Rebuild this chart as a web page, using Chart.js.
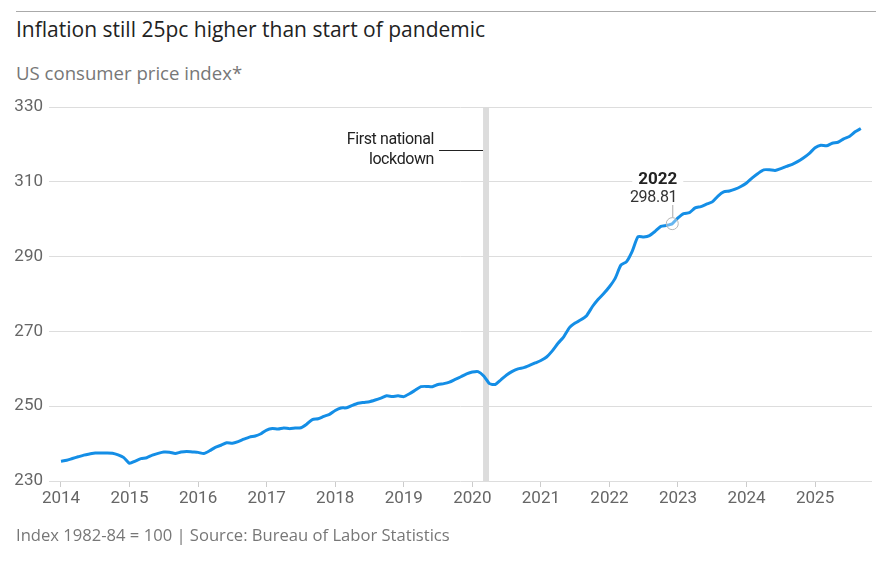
<!DOCTYPE html>
<html><head><meta charset="utf-8">
<script src="https://cdn.jsdelivr.net/npm/chart.js@4"></script>
<style>
body{margin:0;width:876px;height:565px;overflow:hidden;background:#fff;position:relative;font-family:"Open Sans",Roboto,sans-serif}
#topline{position:absolute;left:16px;right:0;top:11px;border-top:1px solid #aaa}
#title{position:absolute;left:16px;top:15px;font-size:21px;color:#222;white-space:nowrap}
#sub{position:absolute;left:16px;top:60px;font-size:18.6px;color:#777;white-space:nowrap}
#foot{position:absolute;left:16px;top:523px;font-size:16.6px;color:#777;white-space:nowrap}
#wrap{position:absolute;left:0;top:0;width:876px;height:565px}
</style></head>
<body>
<div id="topline"></div>
<div id="title">Inflation still 25pc higher than start of pandemic</div>
<div id="sub">US consumer price index*</div>
<div id="wrap"><canvas id="c" width="876" height="565"></canvas></div>
<div id="foot">Index 1982-84 = 100 | Source: Bureau of Labor Statistics</div>
<script>
const years = [2014,2015,2016,2017,2018,2019,2020,2021,2022,2023,2024,2025];
const cpi2014 = [235.288,235.547,236.028,236.468,236.918,237.231,237.498,237.460,237.477,237.430,236.983,236.252];
const cpi2015 = [234.747,235.342,235.976,236.222,236.927,237.400,237.750,237.700,237.363,237.733,237.898,237.761];
const cpi2016 = [237.652,237.336,238.080,238.992,239.557,240.222,240.101,240.545,241.176,241.741,242.026,242.637];
const cpi2017 = [243.618,244.006,243.892,244.193,244.004,244.163,244.243,245.183,246.435,246.626,247.284,247.805];
const cpi2018 = [248.859,249.529,249.577,250.227,250.792,251.018,251.214,251.663,252.182,252.772,252.594,252.767];
const cpi2019 = [252.561,253.319,254.277,255.233,255.296,255.213,255.802,256.036,256.430,257.155,257.879,258.630];
const cpi2020 = [259.127,259.250,258.076,256.032,255.802,257.042,258.352,259.316,259.997,260.319,260.911,261.560];
const cpi2021 = [262.231,263.161,264.793,266.832,268.551,271.019,272.237,273.092,274.214,276.590,278.524,280.126];
const cpi2022 = [281.933,284.182,287.708,288.663,291.474,295.328,295.271,295.620,296.761,298.062,298.349,298.812];
const cpi2023 = [300.356,301.509,301.744,303.032,303.365,304.003,304.628,306.187,307.288,307.531,308.024,308.742];
const cpi2024 = [309.685,311.054,312.230,313.207,313.225,313.049,313.534,314.121,314.686,315.454,316.441,317.603];
const cpi2025 = [319.086,319.775,319.615,320.321,320.580,321.500,322.132,323.364,324.245];
const yTicks = [230,250,270,290,310,330];
const lockdownX = 2020.2;
const lockdownText = ["First national","lockdown"];
const calloutX = 2022 + 11/12;
const calloutY = 298.81;
const calloutLabel = "2022";
const calloutValue = "298.81";

const series = [cpi2014,cpi2015,cpi2016,cpi2017,cpi2018,cpi2019,cpi2020,cpi2021,cpi2022,cpi2023,cpi2024,cpi2025];
const points = [];
series.forEach((arr,i)=>arr.forEach((v,m)=>points.push({x:years[i]+m/12,y:v})));

const NARROW = "Roboto,sans-serif";

const annot = {
  id:'annot',
  beforeDatasetsDraw(chart){
    const {ctx,chartArea,scales:{x}} = chart;
    const px = x.getPixelForValue(lockdownX);
    ctx.save();
    ctx.fillStyle='#dcdcdc';
    ctx.fillRect(px-3,chartArea.top,6,chartArea.bottom-chartArea.top);
    ctx.strokeStyle='#222';ctx.lineWidth=1;
    ctx.beginPath();ctx.moveTo(px-47,150.5);ctx.lineTo(px-3,150.5);ctx.stroke();
    ctx.fillStyle='#222';ctx.font='16px '+NARROW;ctx.textAlign='right';ctx.textBaseline='middle';
    try{ctx.letterSpacing='-0.4px';}catch(e){}
    ctx.fillText(lockdownText[0],px-52,140);
    ctx.fillText(lockdownText[1],px-52,160);
    ctx.restore();
  },
  afterDatasetsDraw(chart){
    const {ctx,scales:{x,y}} = chart;
    const px = x.getPixelForValue(calloutX), py = y.getPixelForValue(calloutY);
    ctx.save();
    ctx.font='bold 17px '+NARROW;
    const w1 = ctx.measureText(calloutLabel).width;
    ctx.fillStyle='#fff';
    ctx.fillRect(px+5-w1-6,174,w1+12,14);
    ctx.fillStyle='#222';ctx.textAlign='right';ctx.textBaseline='alphabetic';
    ctx.fillText(calloutLabel,px+5,184);
    ctx.font='16px '+NARROW;ctx.fillStyle='#333';
    try{ctx.letterSpacing='-0.3px';}catch(e){}
    ctx.fillText(calloutValue,px+5,202);
    ctx.strokeStyle='#aaa';ctx.lineWidth=1;
    ctx.beginPath();ctx.moveTo(px+0.5,205);ctx.lineTo(px+0.5,py-6);ctx.stroke();
    ctx.beginPath();ctx.arc(px,py,6,0,Math.PI*2);
    ctx.fillStyle='rgba(255,255,255,0.35)';ctx.fill();
    ctx.strokeStyle='#b5b5b5';ctx.stroke();
    ctx.restore();
  }
};

new Chart(document.getElementById('c'),{
  type:'line',
  data:{datasets:[{data:points,borderColor:'#148ee6',borderWidth:3,pointRadius:0,tension:0.2,fill:false}]},
  options:{
    responsive:false,animation:false,
    layout:{padding:{top:107,right:4,bottom:44,left:0}},
    plugins:{legend:{display:false},tooltip:{enabled:false}},
    scales:{
      x:{type:'linear',min:2013.825,max:2025.83,
        afterBuildTicks(s){s.ticks=years.map(v=>({value:v}));},
        afterFit(s){s.height=40;},
        grid:{drawOnChartArea:false,color:'#cccccc',tickLength:6,lineWidth:1},
        border:{display:false},
        ticks:{padding:2,color:'#666',font:{family:NARROW,size:17},callback:v=>String(v),maxRotation:0,autoSkip:false}
      },
      y:{min:230,max:330,
        afterBuildTicks(s){s.ticks=yTicks.map(v=>({value:v}));},
        afterFit(s){s.width=49;},
        grid:{color:'#dddddd',drawTicks:false,lineWidth:1},
        border:{display:false},
        ticks:{padding:6,color:'#666',font:{family:NARROW,size:17},callback:v=>String(v)}
      }
    }
  },
  plugins:[annot]
});
</script>
</body></html>
